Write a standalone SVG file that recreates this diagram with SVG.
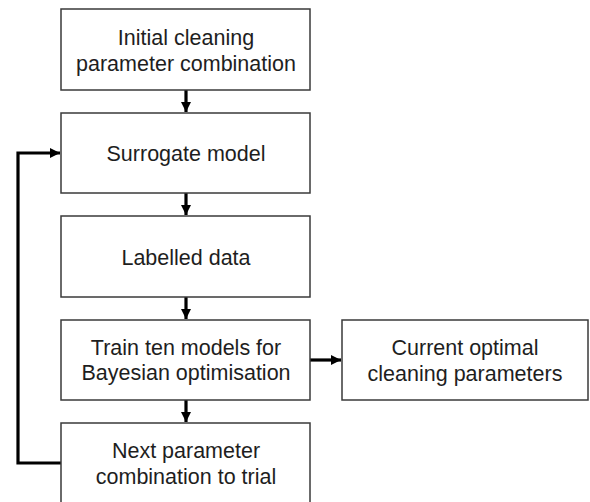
<svg xmlns="http://www.w3.org/2000/svg" width="590" height="502" viewBox="0 0 590 502">
<defs>
<style>
.box{fill:#fff;stroke:#3a3a3a;stroke-width:1.5}
.t{font-family:"Liberation Sans",Arial,sans-serif;font-size:21.5px;fill:#1e1e1e;text-anchor:middle}
.c{fill:none;stroke:#000;stroke-width:3.2}
</style>
<marker id="ah" viewBox="0 0 10 10" refX="10" refY="5" markerWidth="10" markerHeight="10" markerUnits="userSpaceOnUse" orient="auto">
<path d="M0,0 L10,5 L0,10 Z" fill="#000"/>
</marker>
</defs>
<rect width="590" height="502" fill="#fff"/>
<g id="connectors">
<line class="c" x1="186" y1="90" x2="186" y2="112" marker-end="url(#ah)"/>
<line class="c" x1="186" y1="193" x2="186" y2="215" marker-end="url(#ah)"/>
<line class="c" x1="186" y1="297" x2="186" y2="319" marker-end="url(#ah)"/>
<line class="c" x1="186" y1="400" x2="186" y2="422" marker-end="url(#ah)"/>
<line class="c" x1="310" y1="360" x2="341" y2="360" marker-end="url(#ah)"/>
<polyline class="c" points="61,463 18,463 18,153 60,153" marker-end="url(#ah)"/>
</g>
<g id="n1">
<rect class="box" x="61" y="9" width="249" height="81"/>
<text class="t" x="186" y="45">Initial cleaning</text>
<text class="t" x="186" y="71">parameter combination</text>
</g>
<g id="n2">
<rect class="box" x="61" y="113" width="249" height="80"/>
<text class="t" x="186" y="161">Surrogate model</text>
</g>
<g id="n3">
<rect class="box" x="61" y="216" width="249" height="81"/>
<text class="t" x="186" y="265">Labelled data</text>
</g>
<g id="n4">
<rect class="box" x="61" y="320" width="249" height="80"/>
<text class="t" x="186" y="355">Train ten models for</text>
<text class="t" x="186" y="380">Bayesian optimisation</text>
</g>
<g id="n5">
<rect class="box" x="61" y="423" width="249" height="81"/>
<text class="t" x="186" y="458">Next parameter</text>
<text class="t" x="186" y="484">combination to trial</text>
</g>
<g id="n6">
<rect class="box" x="342" y="320" width="246" height="80"/>
<text class="t" x="465" y="355">Current optimal</text>
<text class="t" x="465" y="381">cleaning parameters</text>
</g>
</svg>
